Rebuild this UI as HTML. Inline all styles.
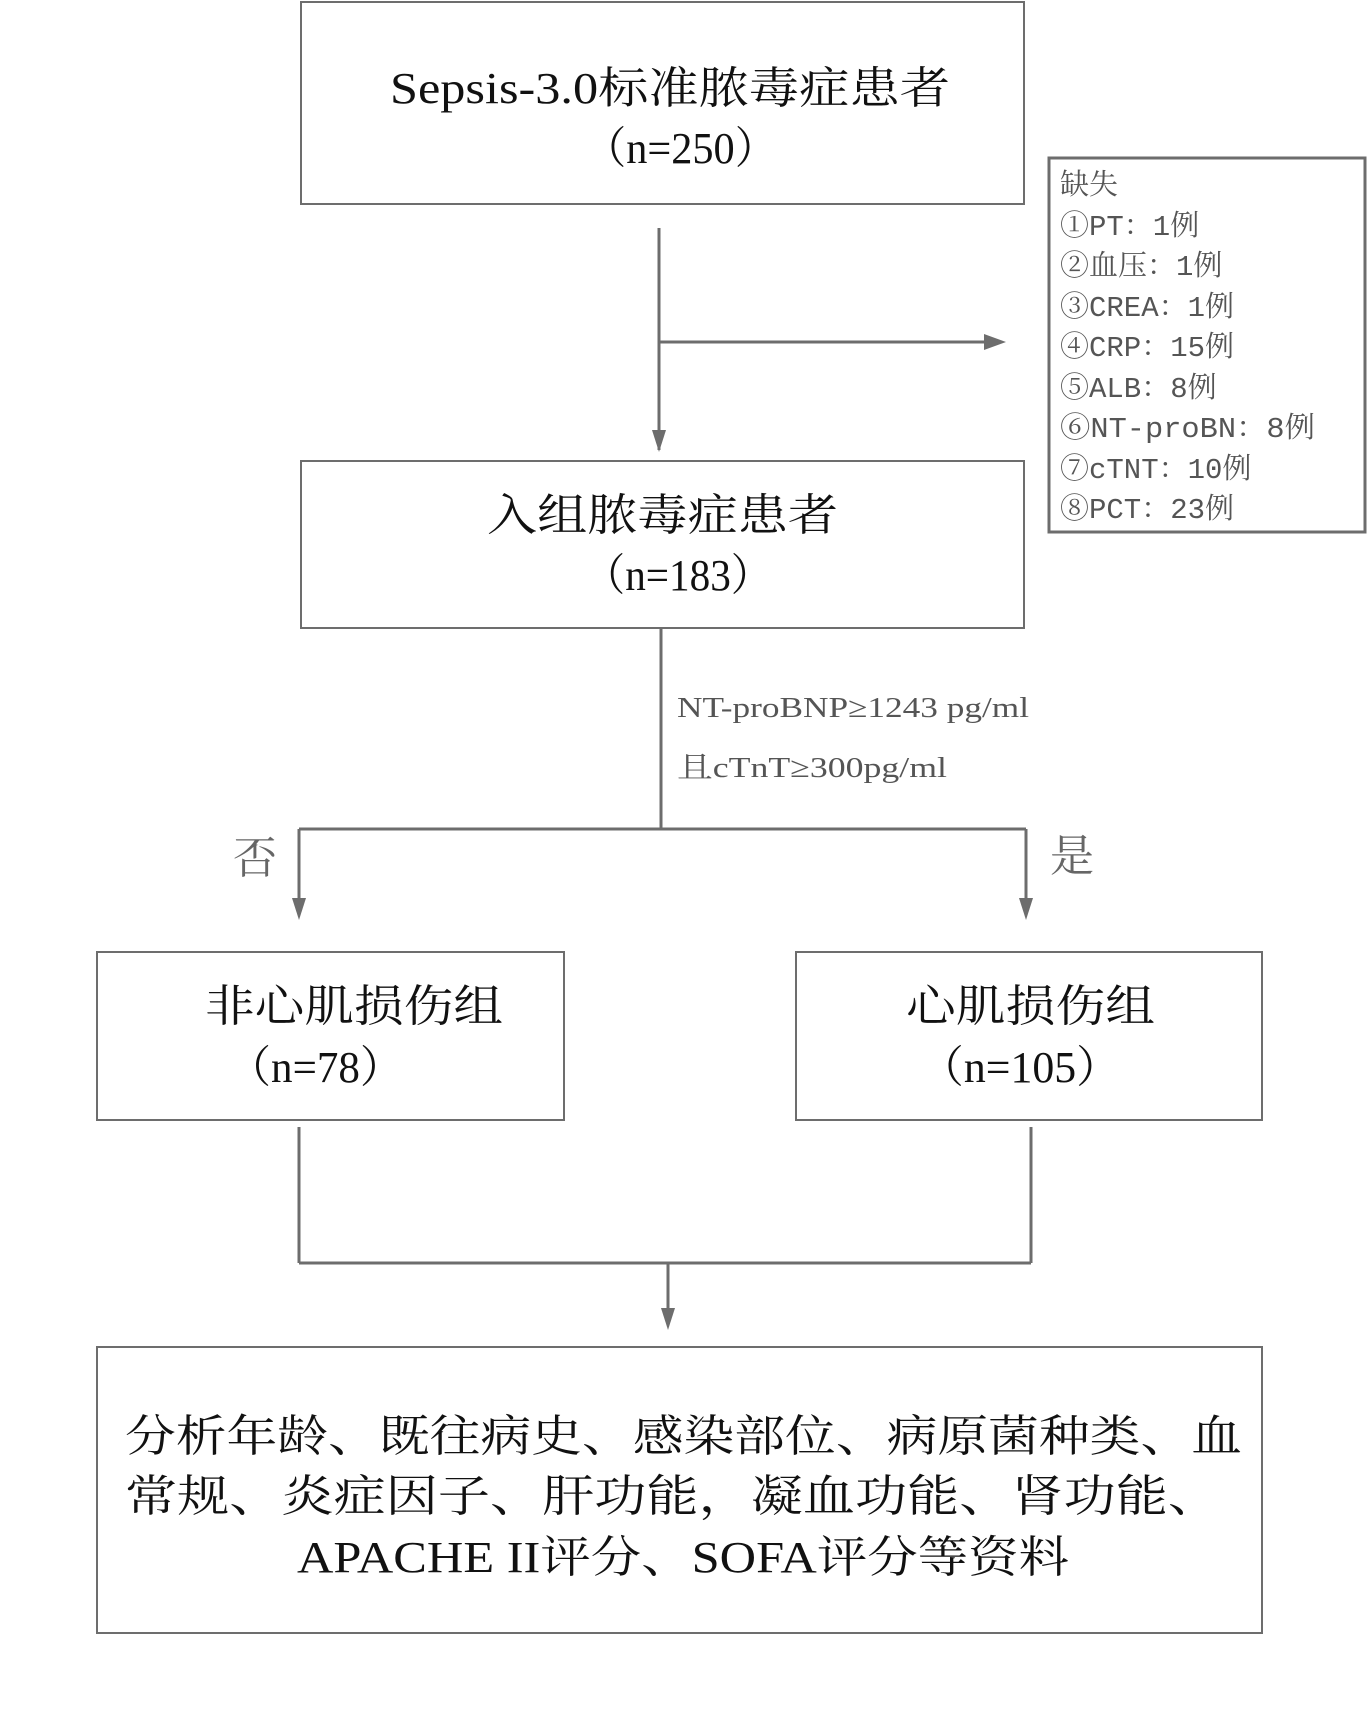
<!DOCTYPE html>
<html><head><meta charset="utf-8"><style>
html,body{margin:0;padding:0;background:#fff;width:1367px;height:1712px;overflow:hidden}
svg{display:block}
text{font-family:"Liberation Serif","Noto Serif CJK SC",serif}
.mono text{font-family:"Liberation Mono","Noto Serif CJK SC",monospace}
</style></head><body>
<svg width="1367" height="1712" viewBox="0 0 1367 1712" xmlns="http://www.w3.org/2000/svg">
<g fill="none" stroke="#6d6d6d" stroke-width="2">
<rect x="301" y="2" width="723" height="202"/>
<rect x="1049" y="158" width="316" height="374" stroke-width="3"/>
<rect x="301" y="461" width="723" height="167"/>
<rect x="97" y="952" width="467" height="168"/>
<rect x="796" y="952" width="466" height="168"/>
<rect x="97" y="1347" width="1165" height="286"/>
</g>
<g fill="none" stroke="#6d6d6d" stroke-width="3">
<line x1="659" y1="228" x2="659" y2="450"/>
<path d="M652,430 L659,452 L666,430 Z" fill="#6d6d6d" stroke="none"/>
<line x1="659" y1="342" x2="1000" y2="342"/>
<path d="M984,334 L1006,342 L984,350 Z" fill="#6d6d6d" stroke="none"/>
<line x1="661" y1="628" x2="661" y2="829"/>
<line x1="299" y1="829" x2="1026" y2="829"/>
<line x1="299" y1="829" x2="299" y2="915"/>
<path d="M292,898 L299,920 L306,898 Z" fill="#6d6d6d" stroke="none"/>
<line x1="1026" y1="829" x2="1026" y2="915"/>
<path d="M1019,898 L1026,920 L1033,898 Z" fill="#6d6d6d" stroke="none"/>
<line x1="299" y1="1127" x2="299" y2="1263"/>
<line x1="1031" y1="1127" x2="1031" y2="1263"/>
<line x1="299" y1="1263" x2="1031" y2="1263"/>
<line x1="668" y1="1263" x2="668" y2="1325"/>
<path d="M661,1308 L668,1330 L675,1308 Z" fill="#6d6d6d" stroke="none"/>
</g>
<g fill="#111" font-size="44">
<text x="390" y="103" textLength="560" lengthAdjust="spacingAndGlyphs">Sepsis-3.0标准脓毒症患者</text>
<text x="584" y="163" textLength="193" lengthAdjust="spacingAndGlyphs">（n=250）</text>
<text x="487" y="530" textLength="351" lengthAdjust="spacingAndGlyphs">入组脓毒症患者</text>
<text x="584" y="590" textLength="188" lengthAdjust="spacingAndGlyphs">（n=183）</text>
<text x="205" y="1021" textLength="298" lengthAdjust="spacingAndGlyphs">非心肌损伤组</text>
<text x="228" y="1082" textLength="175" lengthAdjust="spacingAndGlyphs">（n=78）</text>
<text x="906" y="1021" textLength="249" lengthAdjust="spacingAndGlyphs">心肌损伤组</text>
<text x="920" y="1082" textLength="200" lengthAdjust="spacingAndGlyphs">（n=105）</text>
<text x="125" y="1451" textLength="1117" lengthAdjust="spacingAndGlyphs">分析年龄、既往病史、感染部位、病原菌种类、血</text>
<text x="125" y="1511" textLength="1095" lengthAdjust="spacingAndGlyphs">常规、炎症因子、肝功能，凝血功能、肾功能、</text>
<text x="297" y="1572" textLength="772" lengthAdjust="spacingAndGlyphs">APACHE II评分、SOFA评分等资料</text>
</g>
<g fill="#666" font-size="44">
<text x="233" y="873">否</text>
<text x="1050" y="871">是</text>
</g>
<g fill="#555" font-size="29">
<text x="677" y="717" textLength="352" lengthAdjust="spacingAndGlyphs">NT-proBNP≥1243 pg/ml</text>
<text x="677" y="777" textLength="270" lengthAdjust="spacingAndGlyphs">且cTnT≥300pg/ml</text>
</g>
<g class="mono" fill="#555" font-size="29">
<text x="1060" y="194">缺失</text>
<text x="1060" y="235">①PT：1例</text>
<text x="1060" y="275">②血压：1例</text>
<text x="1060" y="316">③CREA：1例</text>
<text x="1060" y="356">④CRP：15例</text>
<text x="1060" y="397">⑤ALB：8例</text>
<text x="1060" y="437" textLength="255" lengthAdjust="spacingAndGlyphs">⑥NT-proBN：8例</text>
<text x="1060" y="478">⑦cTNT：10例</text>
<text x="1060" y="518">⑧PCT：23例</text>
</g>
</svg>
</body></html>
